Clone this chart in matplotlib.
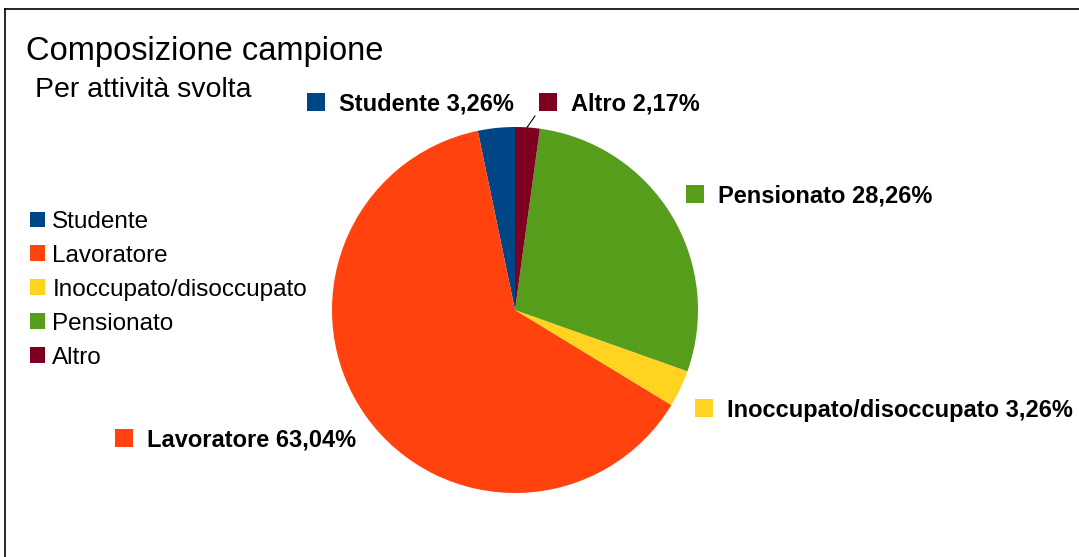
import matplotlib
matplotlib.use('Agg')
import matplotlib.pyplot as plt
from matplotlib.patches import Rectangle
from matplotlib.lines import Line2D

categories = ['Studente', 'Lavoratore', 'Inoccupato/disoccupato', 'Pensionato', 'Altro']
counts = [3, 58, 3, 26, 2]
colors = ['#004586', '#ff420e', '#ffd320', '#579d1c', '#7e0021']

W, H = 1079, 557
plt.rcParams['font.family'] = ['Liberation Sans', 'DejaVu Sans']

fig = plt.figure(figsize=(W / 100, H / 100), dpi=100)


def fx(px):
    return px / W


def fy(py):
    return 1 - py / H


# pie area, in pixels of the picture
ax = fig.add_axes([fx(332), fy(493), 366 / W, 366 / H])
wedges, _ = ax.pie(counts, colors=colors, startangle=90, counterclock=True,
                   radius=1.0, wedgeprops=dict(linewidth=0))
ax.set_xlim(-1, 1)
ax.set_ylim(-1, 1)
ax.set_aspect('equal')

# frame (top and left edges visible)
fig.add_artist(Line2D([fx(5), fx(5)], [0, fy(9)], color='black', lw=1.2))
fig.add_artist(Line2D([fx(5), 1], [fy(9), fy(9)], color='black', lw=1.2))

fig.text(fx(26), fy(60), 'Composizione campione', fontsize=23.5,
         va='baseline', ha='left')
fig.text(fx(35), fy(97), 'Per attività svolta', fontsize=20.5,
         va='baseline', ha='left')

fig.legend(wedges, categories, loc='upper left',
           bbox_to_anchor=(fx(30), fy(211)), frameon=False, fontsize=17.5,
           handlelength=0.62, handleheight=0.62, handletextpad=0.3,
           labelspacing=0.49, borderpad=0, borderaxespad=0)

# data labels: square left x and text baseline y, in pixels
label_pos = [(307, 111), (115, 447), (695, 417), (686, 203), (539, 111)]
total = sum(counts)
for name, n, col, (lx, ly) in zip(categories, counts, colors, label_pos):
    pct = '{:.2f}'.format(100.0 * n / total).replace('.', ',')
    fig.add_artist(Rectangle((fx(lx), fy(ly)), 18 / W, 18 / H,
                             transform=fig.transFigure, color=col, lw=0))
    fig.text(fx(lx + 32), fy(ly), '{} {}%'.format(name, pct),
             fontsize=17, fontweight='bold', va='baseline', ha='left')

# leader line for Altro
ax.plot([0.066, 0.109], [0.998, 1.06], color='black', lw=0.8,
        clip_on=False)

fig.savefig('out.png', dpi=100)
